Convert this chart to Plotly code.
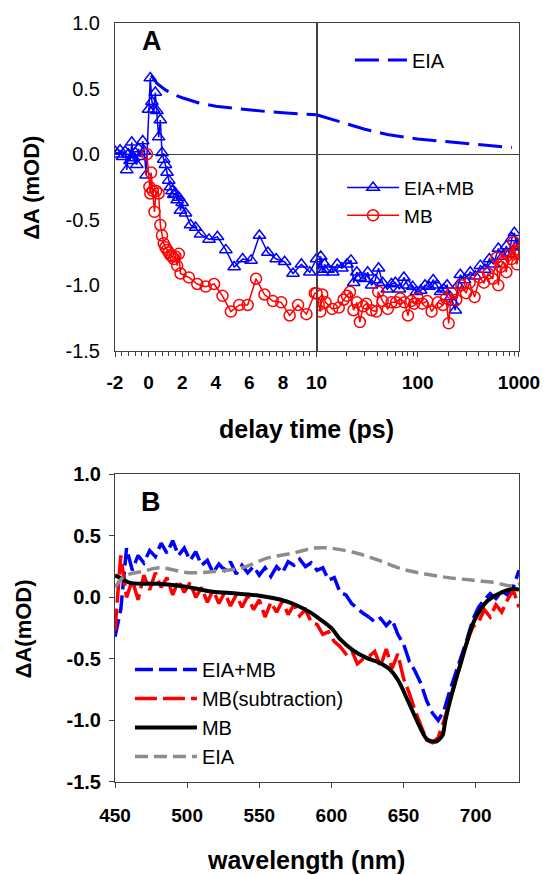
import plotly.graph_objects as go

# ---------------- Panel A: kinetics ----------------
# EIA+MB (blue triangles)
eiamb_t = [-2.0, -1.85, -1.7, -1.55, -1.4, -1.3, -1.2, -1.1, -1.0, -0.9, -0.8, -0.7, -0.6, -0.5,
           -0.35, -0.25, -0.15, 0.0, 0.1, 0.2, 0.3, 0.4, 0.5, 0.6, 0.7, 0.8, 0.9, 1.0, 1.1, 1.2,
           1.3, 1.4, 1.5, 1.6, 1.7, 1.8, 1.9, 2.0, 2.2, 2.5, 2.8, 3.1, 3.6, 4.1, 4.6, 5.1, 5.6,
           6.1, 6.6, 7.1, 7.6, 8.1, 8.6, 9.1, 9.6, 10.0,
           10.5, 11.0, 11.5, 12.0, 13.0, 14.5, 16.0, 17.8, 20.0, 21.9, 23.3, 25.0, 27.0, 30.0,
           32.0, 35.0, 38.0, 41.0, 45.0, 50.0, 55.0, 60.0, 66.0, 73.0, 80.0, 89.0, 97.0, 107,
           118, 129, 142, 155, 168, 180, 195, 210, 222, 235, 250, 263, 290, 330, 370, 415, 460,
           510, 560, 625, 690, 750, 800, 850, 900, 950, 1000]
eiamb_v = [0.02, 0.00, 0.03, -0.02, 0.02, -0.12, 0.00, -0.05, 0.09, -0.03, 0.01, -0.08, 0.04, -0.02,
           0.10, 0.02, -0.16, 0.34, 0.58, 0.40, 0.34, 0.47, 0.33, 0.13, 0.26, 0.01, -0.04, -0.08,
           -0.14, -0.20, -0.25, -0.28, -0.31, -0.30, -0.35, -0.33, -0.43, -0.37, -0.45, -0.54,
           -0.56, -0.61, -0.65, -0.63, -0.73, -0.86, -0.80, -0.81, -0.62, -0.75, -0.80, -0.82,
           -0.91, -0.84, -0.90, -0.80,
           -0.88, -0.78, -0.90, -0.84, -0.88, -0.90, -0.84, -0.87, -0.84, -0.81, -0.98, -0.90,
           -0.94, -0.95, -0.90, -1.00, -0.96, -0.87, -0.98, -1.03, -0.99, -0.98, -1.03, -0.94,
           -1.00, -1.01, -1.05, -1.04, -1.00, -1.01, -0.96, -1.00, -1.05, -1.03, -1.00, -1.09,
           -1.13, -1.19, -1.00, -0.92, -0.96, -0.90, -0.93, -0.85, -0.88, -0.80, -0.84, -0.72,
           -0.78, -0.70, -0.76, -0.64, -0.60, -0.70, -0.71]

# MB (red circles)
mb_t = [-0.1, 0.05, 0.1, 0.15, 0.25, 0.35, 0.45, 0.6, 0.7, 0.8, 0.9, 1.0, 1.1, 1.2, 1.3, 1.4,
        1.5, 1.6, 1.7, 1.8, 1.9, 2.4, 2.9, 3.4, 3.9, 4.4, 4.9, 5.4, 5.9, 6.4, 6.9, 7.4, 7.9,
        8.4, 8.9, 9.4, 9.9, 10.0,
        10.5, 10.9, 11.4, 12.3, 14.3, 16.6, 18.5, 20.0, 21.4, 23.2, 25.0, 26.8, 29.0, 31.0,
        35.0, 39.0, 40.7, 45.0, 50.6, 55.0, 61.0, 67.0, 74.0, 80.0, 86.0, 92.0, 100, 111, 124,
        137, 158, 177, 190, 202, 215, 240, 270, 300, 325, 364, 410, 450, 495, 550, 600, 625,
        660, 700, 750, 790, 840, 885, 920, 955, 1000]
mb_v = [0.00, -0.25, -0.30, -0.14, -0.28, -0.44, -0.28, -0.30, -0.54, -0.62, -0.68, -0.71,
        -0.73, -0.75, -0.77, -0.78, -0.80, -0.78, -0.85, -0.76, -0.91, -0.94, -0.99, -1.01,
        -0.99, -1.08, -1.20, -1.15, -1.15, -0.95, -1.07, -1.12, -1.13, -1.23, -1.15, -1.22,
        -1.06, -1.06,
        -1.15, -1.20, -1.07, -1.13, -1.18, -1.17, -1.11, -1.08, -1.05, -1.19, -1.13, -1.28,
        -1.16, -1.14, -1.19, -1.20, -1.05, -1.12, -1.18, -1.13, -1.13, -1.10, -1.13, -1.23,
        -1.12, -1.14, -1.10, -1.14, -1.12, -1.20, -1.13, -1.15, -1.10, -1.29, -1.06, -1.11,
        -1.00, -1.06, -0.98, -1.09, -0.94, -0.98, -0.91, -0.95, -0.79, -1.00, -0.86, -0.82,
        -0.90, -0.77, -0.80, -0.67, -0.75, -0.84, -0.73]

# EIA (blue dashed)
eia_t = [0.15, 0.5, 1.0, 1.5, 2.0, 3.0, 4.0, 5.0, 6.0, 7.0, 8.0, 9.0, 10.0,
         15, 20, 30, 50, 100, 200, 400, 700, 850]
eia_v = [0.60, 0.54, 0.49, 0.455, 0.43, 0.39, 0.365, 0.35, 0.34, 0.325, 0.315, 0.308, 0.30,
         0.26, 0.23, 0.19, 0.15, 0.115, 0.095, 0.07, 0.055, 0.05]

# axis ticks panel A
a_lin_tickvals = [-2, 0, 2, 4, 6, 8]
a_lin_ticktext = ["-2", "0", "2", "4", "6", "8"]
a_log_tickvals = [10, 100, 1000]
a_log_ticktext = ["10", "100", "1000"]
a_log_minor = [20, 30, 40, 50, 60, 70, 80, 90, 200, 300, 400, 500, 600, 700, 800, 900]
y_tickvals = [-1.5, -1.0, -0.5, 0.0, 0.5, 1.0]
y_ticktext = ["-1.5", "-1.0", "-0.5", "0.0", "0.5", "1.0"]

# ---------------- Panel B: spectra ----------------
wl = [450, 454, 458, 462, 466, 470, 474, 478, 482, 486, 490, 494, 498, 502, 506, 510, 514, 518,
      522, 526, 530, 534, 538, 542, 546, 550, 554, 558, 562, 566, 570, 574, 578, 582, 586, 590,
      594, 598, 602, 606, 610, 614, 618, 622, 626, 630, 634, 638, 642, 646, 650, 654, 658, 662,
      666, 670, 674, 678, 682, 686, 690, 694, 698, 702, 706, 710, 714, 718, 722, 726, 730]
spec_eiamb = [-0.32, -0.10, 0.40, 0.22, 0.34, 0.28, 0.38, 0.33, 0.44, 0.36, 0.46, 0.34, 0.40,
              0.30, 0.37, 0.26, 0.30, 0.20, 0.27, 0.22, 0.29, 0.19, 0.26, 0.20, 0.25, 0.18, 0.24,
              0.17, 0.25, 0.20, 0.29, 0.26, 0.31, 0.25, 0.28, 0.22, 0.24, 0.14, 0.16, 0.04, 0.02,
              -0.05, -0.09, -0.13, -0.16, -0.20, -0.17, -0.23, -0.18, -0.30, -0.38, -0.52, -0.60,
              -0.70, -0.84, -0.94, -1.00, -0.92, -0.76, -0.62, -0.50, -0.34, -0.18, -0.08, -0.02,
              0.03, -0.01, 0.05, 0.02, 0.08, 0.22]
spec_mbsub = [-0.27, 0.34, 0.00, 0.14, -0.02, 0.18, 0.06, 0.20, 0.08, 0.16, 0.02, 0.14, 0.04,
              0.12, 0.00, 0.08, -0.04, 0.06, -0.05, 0.04, -0.07, 0.02, -0.08, 0.01, -0.10, -0.02,
              -0.16, -0.04, -0.12, -0.03, -0.14, -0.06, -0.15, -0.10, -0.20, -0.22, -0.30, -0.28,
              -0.36, -0.40, -0.46, -0.43, -0.54, -0.50, -0.48, -0.44, -0.56, -0.42, -0.58, -0.46,
              -0.66, -0.78, -0.92, -1.04, -1.16, -1.18, -1.14, -1.00, -0.84, -0.66, -0.50, -0.36,
              -0.24, -0.20, -0.10, -0.16, -0.06, -0.12, -0.02, 0.06, -0.08]
mb_wl = [450, 455, 460, 470, 480, 490, 500, 515, 530, 550, 565, 575, 585, 590, 600, 606, 615,
         624, 633, 640, 646, 653, 658, 662, 666, 670, 673, 675, 677, 679, 682, 686, 690, 693,
         699, 708, 718, 726, 730]
spec_mb = [0.18, 0.15, 0.12, 0.11, 0.11, 0.10, 0.085, 0.05, 0.035, 0.013, -0.02, -0.06, -0.12,
           -0.16, -0.25, -0.34, -0.43, -0.49, -0.53, -0.58, -0.67, -0.84, -0.97, -1.07, -1.15,
           -1.17, -1.17, -1.15, -1.12, -1.00, -0.85, -0.68, -0.52, -0.40, -0.19, -0.03, 0.04,
           0.07, 0.06]
eia_wl = [450, 457, 469, 481, 501, 519, 538, 556, 574, 588, 599, 617, 633, 649, 665, 681, 697,
          713, 724, 730]
spec_eia = [0.08, 0.175, 0.21, 0.24, 0.20, 0.21, 0.24, 0.32, 0.36, 0.40, 0.40, 0.36, 0.30, 0.23,
            0.19, 0.16, 0.14, 0.12, 0.094, 0.11]
b_x_tickvals = [450, 500, 550, 600, 650, 700]
b_x_ticktext = ["450", "500", "550", "600", "650", "700"]

BLUE = "#0000FF"
RED = "#FF0000"
GRAY = "#8C8C8C"
AX = "#404040"
FONT = "Arial, Liberation Sans, sans-serif"


def split(t, v):
    lin = [(a, b) for a, b in zip(t, v) if a <= 10]
    log = [(a, b) for a, b in zip(t, v) if a >= 10]
    return ([p[0] for p in lin], [p[1] for p in lin]), ([p[0] for p in log], [p[1] for p in log])


fig = go.Figure()

(lt, lv), (gt, gv) = split(eia_t, eia_v)
eia_line = dict(color=BLUE, width=3, dash="24px,9px")
fig.add_trace(go.Scatter(x=lt, y=lv, xaxis="x", yaxis="y", mode="lines", line=eia_line,
                         name="EIA", legend="legend", legendgroup="a1"))
fig.add_trace(go.Scatter(x=gt, y=gv, xaxis="x2", yaxis="y", mode="lines", line=eia_line,
                         showlegend=False, legendgroup="a1"))

for (t, v, name, col, sym) in [(eiamb_t, eiamb_v, "EIA+MB", BLUE, "triangle-up-open"),
                               (mb_t, mb_v, "MB", RED, "circle-open")]:
    (lt, lv), (gt, gv) = split(t, v)
    mk = dict(symbol=sym, size=11, color=col, line=dict(width=1.5, color=col))
    ln = dict(color=col, width=1.5)
    fig.add_trace(go.Scatter(x=lt, y=lv, xaxis="x", yaxis="y", mode="lines+markers", marker=mk,
                             line=ln, name=name, legend="legend2", legendgroup=name))
    fig.add_trace(go.Scatter(x=gt, y=gv, xaxis="x2", yaxis="y", mode="lines+markers", marker=mk,
                             line=ln, showlegend=False, legendgroup=name))

# Panel B traces
fig.add_trace(go.Scatter(x=wl, y=spec_eiamb, xaxis="x3", yaxis="y3", mode="lines",
                         line=dict(color=BLUE, width=3.5, dash="18px,6px"), name="EIA+MB",
                         legend="legend3", legendgroup="b1"))
fig.add_trace(go.Scatter(x=wl, y=spec_mbsub, xaxis="x3", yaxis="y3", mode="lines",
                         line=dict(color=RED, width=3.5, dash="22px,6px"), name="MB(subtraction)",
                         legend="legend3", legendgroup="b2"))
fig.add_trace(go.Scatter(x=mb_wl, y=spec_mb, xaxis="x3", yaxis="y3", mode="lines",
                         line=dict(color="black", width=4, shape="spline"), name="MB",
                         legend="legend3", legendgroup="b3"))
fig.add_trace(go.Scatter(x=eia_wl, y=spec_eia, xaxis="x3", yaxis="y3", mode="lines",
                         line=dict(color=GRAY, width=3.5, dash="13px,6px", shape="spline"),
                         name="EIA", legend="legend3", legendgroup="b4"))

tick_reg = dict(family=FONT, size=20, color="black")
tick_bold = dict(family=FONT, size=19, color="black", weight="bold")
tick_bold_y = dict(family=FONT, size=20, color="black", weight="bold")

common_x = dict(showline=True, linecolor=AX, linewidth=1, mirror=True, showgrid=False,
                zeroline=False, ticks="outside", ticklen=5, tickcolor=AX, tickfont=tick_bold)

fig.update_layout(
    width=552, height=875,
    margin=dict(l=115, r=26, t=20, b=93),
    paper_bgcolor="white", plot_bgcolor="white",
    font=dict(family=FONT, color="black"),
    xaxis=dict(domain=[0, 0.4988], range=[-2, 10], anchor="y",
               tickvals=a_lin_tickvals, ticktext=a_lin_ticktext, ticklabelstandoff=9,
               minor=dict(ticks="outside", ticklen=4, dtick=0.4, tick0=-2, tickcolor=AX),
               **common_x),
    xaxis2=dict(domain=[0.4988, 1], type="log", range=[1, 3], anchor="y",
                tickvals=a_log_tickvals, ticktext=a_log_ticktext, ticklabelstandoff=9,
                minor=dict(ticks="outside", ticklen=4, tickvals=a_log_minor, tickcolor=AX),
                **common_x),
    yaxis=dict(domain=[0.568, 1], range=[-1.5, 1.0], anchor="x",
               tickvals=y_tickvals, ticktext=y_ticktext, ticks="", tickfont=tick_reg,
               ticklabelstandoff=10,
               showline=True, linecolor=AX, linewidth=1, mirror="all", showgrid=False,
               zeroline=True, zerolinecolor=AX, zerolinewidth=1),
    xaxis3=dict(domain=[0, 1], range=[450, 730], anchor="y3", ticklabelstandoff=11,
                tickvals=b_x_tickvals, ticktext=b_x_ticktext, **common_x),
    yaxis3=dict(domain=[0, 0.4055], range=[-1.5, 1.0], anchor="x3",
                tickvals=y_tickvals, ticktext=y_ticktext, ticks="outside", ticklen=5,
                tickcolor=AX, tickfont=tick_bold_y, ticklabelstandoff=4,
                showline=True, linecolor=AX, linewidth=1, mirror=True, showgrid=False,
                zeroline=False),
    legend=dict(x=0.5815, y=0.977, xanchor="left", yanchor="top", bgcolor="rgba(0,0,0,0)",
                font=dict(family=FONT, size=20, color="black"), itemwidth=52,
                tracegroupgap=0),
    legend2=dict(x=0.562, y=0.808, xanchor="left", yanchor="top", bgcolor="rgba(0,0,0,0)",
                 font=dict(family=FONT, size=19, color="black"), itemwidth=52,
                 tracegroupgap=0, traceorder="grouped"),
    legend3=dict(x=0.037, y=0.174, xanchor="left", yanchor="top", bgcolor="rgba(0,0,0,0)",
                 font=dict(family=FONT, size=20, color="black"), itemwidth=62,
                 tracegroupgap=0, traceorder="grouped"),
    showlegend=True,
)

annots = [
    dict(text="<b>A</b>", x=0.092, y=0.976, font=dict(size=27)),
    dict(text="<b>B</b>", x=0.090, y=0.3688, font=dict(size=27)),
    dict(text="<b>delay time (ps)</b>", x=0.474, y=0.4646, font=dict(size=25)),
    dict(text="<b>wavelength (nm)</b>", x=0.474, y=-0.1024, font=dict(size=25)),
    dict(text="<b>ΔA (mOD)</b>", x=-0.2068, y=0.7835, font=dict(size=22), textangle=-90),
    dict(text="<b>ΔA(mOD)</b>", x=-0.226, y=0.202, font=dict(size=22), textangle=-90),
]
for a in annots:
    fig.add_annotation(xref="paper", yref="paper", showarrow=False, xanchor="center",
                       yanchor="middle", font_family=FONT, font_color="black", **a)

fig.write_html("out.html")
